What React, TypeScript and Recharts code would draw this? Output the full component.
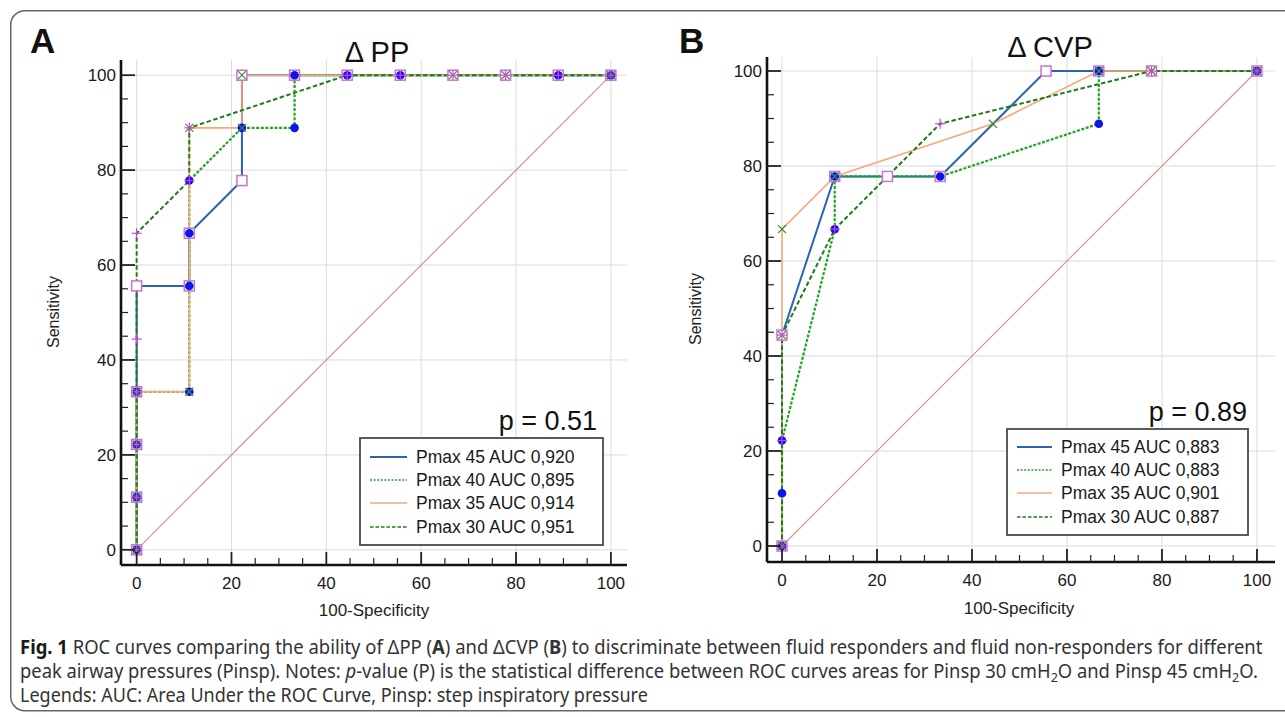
import React from 'react';
import { ComposedChart, Line, XAxis, YAxis, ReferenceLine } from 'recharts';

type Pt = [number, number];

// ---------- data ----------
const axisTicks = [0, 5, 10, 15, 20, 25, 30, 35, 40, 45, 50, 55, 60, 65, 70, 75, 80, 85, 90, 95, 100];
const majorTicks = [0, 20, 40, 60, 80, 100];
const seriesNames = ['Pmax 45', 'Pmax 40', 'Pmax 35', 'Pmax 30'];
const ppAuc = ['0,920', '0,895', '0,914', '0,951'];
const cvpAuc = ['0,883', '0,883', '0,901', '0,887'];
const diagonal: Pt[] = [[0, 0], [100, 100]];

const ppPmax45: Pt[] = [[0, 0], [0, 11.1], [0, 22.2], [0, 33.3], [0, 55.6], [11.1, 55.6], [11.1, 66.7], [22.2, 77.8], [22.2, 100], [33.3, 100], [44.4, 100], [55.6, 100], [66.7, 100], [77.8, 100], [88.9, 100], [100, 100]];
const ppPmax40: Pt[] = [[0, 0], [0, 11.1], [0, 22.2], [0, 33.3], [11.1, 33.3], [11.1, 55.6], [11.1, 66.7], [11.1, 77.8], [22.2, 88.9], [33.3, 88.9], [33.3, 100], [44.4, 100], [55.6, 100], [88.9, 100], [100, 100]];
const ppPmax35: Pt[] = [[0, 0], [0, 11.1], [0, 22.2], [0, 33.3], [11.1, 33.3], [11.1, 88.9], [22.2, 88.9], [22.2, 100], [66.7, 100], [77.8, 100], [100, 100]];
const ppPmax30: Pt[] = [[0, 0], [0, 11.1], [0, 22.2], [0, 33.3], [0, 44.4], [0, 66.7], [11.1, 77.8], [11.1, 88.9], [44.4, 100], [55.6, 100], [66.7, 100], [77.8, 100], [88.9, 100], [100, 100]];

const cvpPmax45: Pt[] = [[0, 0], [0, 44.4], [11.1, 77.8], [22.2, 77.8], [33.3, 77.8], [55.6, 100], [66.7, 100], [77.8, 100], [100, 100]];
const cvpPmax40: Pt[] = [[0, 0], [0, 11.1], [0, 22.2], [11.1, 66.7], [11.1, 77.8], [33.3, 77.8], [66.7, 88.9], [66.7, 100], [100, 100]];
const cvpPmax35: Pt[] = [[0, 0], [0, 44.4], [0, 66.7], [11.1, 77.8], [44.4, 88.9], [66.7, 100], [77.8, 100], [100, 100]];
const cvpPmax30: Pt[] = [[0, 0], [0, 22.2], [0, 44.4], [11.1, 66.7], [33.3, 88.9], [77.8, 100], [100, 100]];

// ---------- styles ----------
const FONT = "'Liberation Sans', Arial, sans-serif";
const CAP_FONT = "'Noto Sans', 'Open Sans', sans-serif";
const TM = 4;

type MarkerKind = 'square' | 'circle' | 'cross' | 'plus';
const seriesStyles: { color: string; width: number; dash?: string; legendDash?: string; marker: MarkerKind }[] = [
  { color: '#2c63ad', width: 2, marker: 'square' },
  { color: '#1fa51f', width: 2.2, dash: '3 1.6', legendDash: '2 1.6', marker: 'circle' },
  { color: '#f6a77c', width: 1.6, marker: 'cross' },
  { color: '#1b7d1b', width: 2, dash: '4.5 2.5', legendDash: '3.5 2', marker: 'plus' },
];

const toData = (pts: Pt[]) => pts.map(([x, y]) => ({ x, y }));

const makeDot = (kind: MarkerKind) => (p: any) => {
  const { cx, cy, index } = p;
  if (cx == null || cy == null) return <g key={index} />;
  if (kind === 'square')
    return <rect key={index} x={cx - 5} y={cy - 5} width={10} height={10} fill="#ffffff" stroke="#c873cf" strokeWidth={1.5} />;
  if (kind === 'circle') return <circle key={index} cx={cx} cy={cy} r={4.3} fill="#0b16e8" />;
  if (kind === 'cross')
    return (
      <g key={index} stroke="#3c8a3c" strokeWidth={1.2}>
        <line x1={cx - 4} y1={cy - 4} x2={cx + 4} y2={cy + 4} />
        <line x1={cx - 4} y1={cy + 4} x2={cx + 4} y2={cy - 4} />
      </g>
    );
  return (
    <g key={index} stroke="#e03ce0" strokeWidth={1.2}>
      <line x1={cx - 5} y1={cy} x2={cx + 5} y2={cy} />
      <line x1={cx} y1={cy - 5} x2={cx} y2={cy + 5} />
    </g>
  );
};

const xTick = (p: any) => {
  const v = p.payload.value;
  const major = v % 20 === 0;
  const ay = p.y - TM;
  return (
    <g>
      <line x1={p.x} x2={p.x} y1={ay} y2={ay - (major ? 13 : 7)} stroke="#222" strokeWidth={major ? 1.8 : 1.2} />
      {major ? (
        <text x={p.x} y={ay + 24} textAnchor="middle" fontSize={17} fill="#1a1a1a" fontFamily={FONT}>
          {v}
        </text>
      ) : null}
    </g>
  );
};

const yTick = (p: any) => {
  const v = p.payload.value;
  const major = v % 20 === 0;
  const ax = p.x + TM;
  return (
    <g>
      <line x1={ax} x2={ax + (major ? 14 : 7)} y1={p.y} y2={p.y} stroke="#222" strokeWidth={major ? 1.8 : 1.2} />
      {major ? (
        <text x={ax - 5} y={p.y + 6} textAnchor="end" fontSize={17} fill="#1a1a1a" fontFamily={FONT}>
          {v}
        </text>
      ) : null}
    </g>
  );
};

type PanelCfg = {
  left: number;
  top: number;
  width: number;
  height: number;
  margin: { top: number; right: number; bottom: number; left: number };
  xDomain: [number, number];
  yDomain: [number, number];
};

function RocPanel({ cfg, series }: { cfg: PanelCfg; series: Pt[][] }) {
  return (
    <div style={{ position: 'absolute', left: cfg.left, top: cfg.top }}>
      <ComposedChart width={cfg.width} height={cfg.height} margin={cfg.margin}>
        <XAxis
          type="number"
          dataKey="x"
          domain={cfg.xDomain}
          allowDataOverflow
          ticks={axisTicks}
          interval={0}
          tickSize={0}
          tickMargin={TM}
          tick={xTick}
          axisLine={{ stroke: '#111', strokeWidth: 2.6 }}
          height={50}
        />
        <YAxis
          type="number"
          dataKey="y"
          domain={cfg.yDomain}
          allowDataOverflow
          ticks={axisTicks}
          interval={0}
          tickSize={0}
          tickMargin={TM}
          tick={yTick}
          axisLine={{ stroke: '#111', strokeWidth: 2.6 }}
          width={60}
        />
        {majorTicks.map((v) => (
          <ReferenceLine key={'gx' + v} x={v} stroke="#dadada" strokeWidth={1} />
        ))}
        {majorTicks.map((v) => (
          <ReferenceLine key={'gy' + v} y={v} stroke="#dadada" strokeWidth={1} />
        ))}
        <Line data={toData(diagonal)} dataKey="y" stroke="#e08a8a" strokeWidth={1.1} dot={false} activeDot={false} isAnimationActive={false} />
        {series.map((pts, i) => (
          <Line
            key={seriesNames[i]}
            name={seriesNames[i]}
            data={toData(pts)}
            dataKey="y"
            type="linear"
            stroke={seriesStyles[i].color}
            strokeWidth={seriesStyles[i].width}
            strokeDasharray={seriesStyles[i].dash}
            dot={makeDot(seriesStyles[i].marker)}
            activeDot={false}
            isAnimationActive={false}
          />
        ))}
      </ComposedChart>
    </div>
  );
}

function LegendBox({ x, y, w, h, rows, auc, sampleW, textX }: { x: number; y: number; w: number; h: number; rows: number[]; auc: string[]; sampleW: number; textX: number }) {
  return (
    <g>
      <rect x={x} y={y} width={w} height={h} fill="#ffffff" stroke="#4a4a4a" strokeWidth={1.8} />
      {seriesNames.map((n, i) => (
        <g key={n}>
          <line
            x1={x + 10}
            x2={x + 10 + sampleW}
            y1={rows[i]}
            y2={rows[i]}
            stroke={seriesStyles[i].color}
            strokeWidth={i === 0 ? 2 : 1.6}
            strokeDasharray={seriesStyles[i].legendDash}
          />
          <text x={x + textX} y={rows[i] + 6} fontSize={17.5} fill="#1a1a1a" fontFamily={FONT}>
            {`${n} AUC ${auc[i]}`}
          </text>
        </g>
      ))}
    </g>
  );
}

function FitLine({ top, width, children }: { top: number; width: number; children: React.ReactNode }) {
  const ref = React.useRef<HTMLDivElement>(null);
  const [s, setS] = React.useState(1);
  React.useLayoutEffect(() => {
    if (ref.current) {
      const w = ref.current.offsetWidth;
      if (w > 0) setS(width / w);
    }
  }, [width]);
  return (
    <div
      ref={ref}
      style={{
        position: 'absolute',
        left: 20,
        top,
        whiteSpace: 'nowrap',
        fontFamily: CAP_FONT,
        fontSize: 19,
        lineHeight: '24px',
        color: '#333',
        transform: `scaleX(${s})`,
        transformOrigin: '0 0',
      }}
    >
      {children}
    </div>
  );
}

const panelA: PanelCfg = {
  left: 61,
  top: 0,
  width: 600,
  height: 620,
  margin: { top: 60, right: 34, bottom: 5, left: 0 },
  xDomain: [-3.3, 103.4],
  yDomain: [-3.2, 103.2],
};

const panelB: PanelCfg = {
  left: 707,
  top: 0,
  width: 578,
  height: 617,
  margin: { top: 57, right: 10, bottom: 5, left: 0 },
  xDomain: [-3.16, 103.8],
  yDomain: [-3.37, 102.95],
};

const sub: React.CSSProperties = { fontSize: 13, lineHeight: 0, verticalAlign: '-4px' };

export default function App() {
  return (
    <div style={{ position: 'absolute', left: 0, top: 0, width: 1285, height: 717, overflow: 'hidden', background: '#ffffff' }}>
      <RocPanel cfg={panelA} series={[ppPmax45, ppPmax40, ppPmax35, ppPmax30]} />
      <RocPanel cfg={panelB} series={[cvpPmax45, cvpPmax40, cvpPmax35, cvpPmax30]} />
      <svg width={1285} height={717} style={{ position: 'absolute', left: 0, top: 0, pointerEvents: 'none' }}>
        <rect x={10.75} y={10.75} width={1300} height={700} rx={14} fill="none" stroke="#666" strokeWidth={1.5} />
        <text x={30} y={53} fontSize={35} fontWeight="bold" fill="#111" fontFamily={FONT}>A</text>
        <text x={679} y={53} fontSize={35} fontWeight="bold" fill="#111" fontFamily={FONT}>B</text>
        <text x={377} y={62} fontSize={29} textAnchor="middle" fill="#111" fontFamily={FONT}>Δ PP</text>
        <text x={1050} y={57} fontSize={29} textAnchor="middle" fill="#111" fontFamily={FONT}>Δ CVP</text>
        <text transform="translate(59,312) rotate(-90)" fontSize={16} textAnchor="middle" fill="#222" fontFamily={FONT}>Sensitivity</text>
        <text transform="translate(701,309) rotate(-90)" fontSize={16} textAnchor="middle" fill="#222" fontFamily={FONT}>Sensitivity</text>
        <text x={374} y={616} fontSize={17} textAnchor="middle" fill="#222" fontFamily={FONT}>100-Specificity</text>
        <text x={1019} y={614} fontSize={17} textAnchor="middle" fill="#222" fontFamily={FONT}>100-Specificity</text>
        <text x={597} y={430} fontSize={27} textAnchor="end" fill="#111" fontFamily={FONT}>p = 0.51</text>
        <text x={1247} y={421} fontSize={27} textAnchor="end" fill="#111" fontFamily={FONT}>p = 0.89</text>
        <LegendBox x={360} y={438} w={243} h={107} rows={[457, 480, 503, 527]} auc={ppAuc} sampleW={37} textX={56} />
        <LegendBox x={1007} y={429} w={241} h={106} rows={[447, 470, 493, 517]} auc={cvpAuc} sampleW={35} textX={54} />
      </svg>
      <FitLine top={635} width={1242}>
        <b style={{ color: '#1a1a1a' }}>Fig. 1</b>
        {'  ROC curves comparing the ability of ΔPP ('}
        <b>A</b>
        {') and ΔCVP ('}
        <b>B</b>
        {') to discriminate between fluid responders and fluid non-responders for different'}
      </FitLine>
      <FitLine top={659} width={1238}>
        {'peak airway pressures (Pinsp). Notes: '}
        <i>p</i>
        {'-value (P) is the statistical difference between ROC curves areas for Pinsp 30 cmH'}
        <span style={sub}>2</span>
        {'O and Pinsp 45 cmH'}
        <span style={sub}>2</span>
        {'O.'}
      </FitLine>
      <FitLine top={683} width={628}>
        {'Legends: AUC: Area Under the ROC Curve, Pinsp: step inspiratory pressure'}
      </FitLine>
    </div>
  );
}
